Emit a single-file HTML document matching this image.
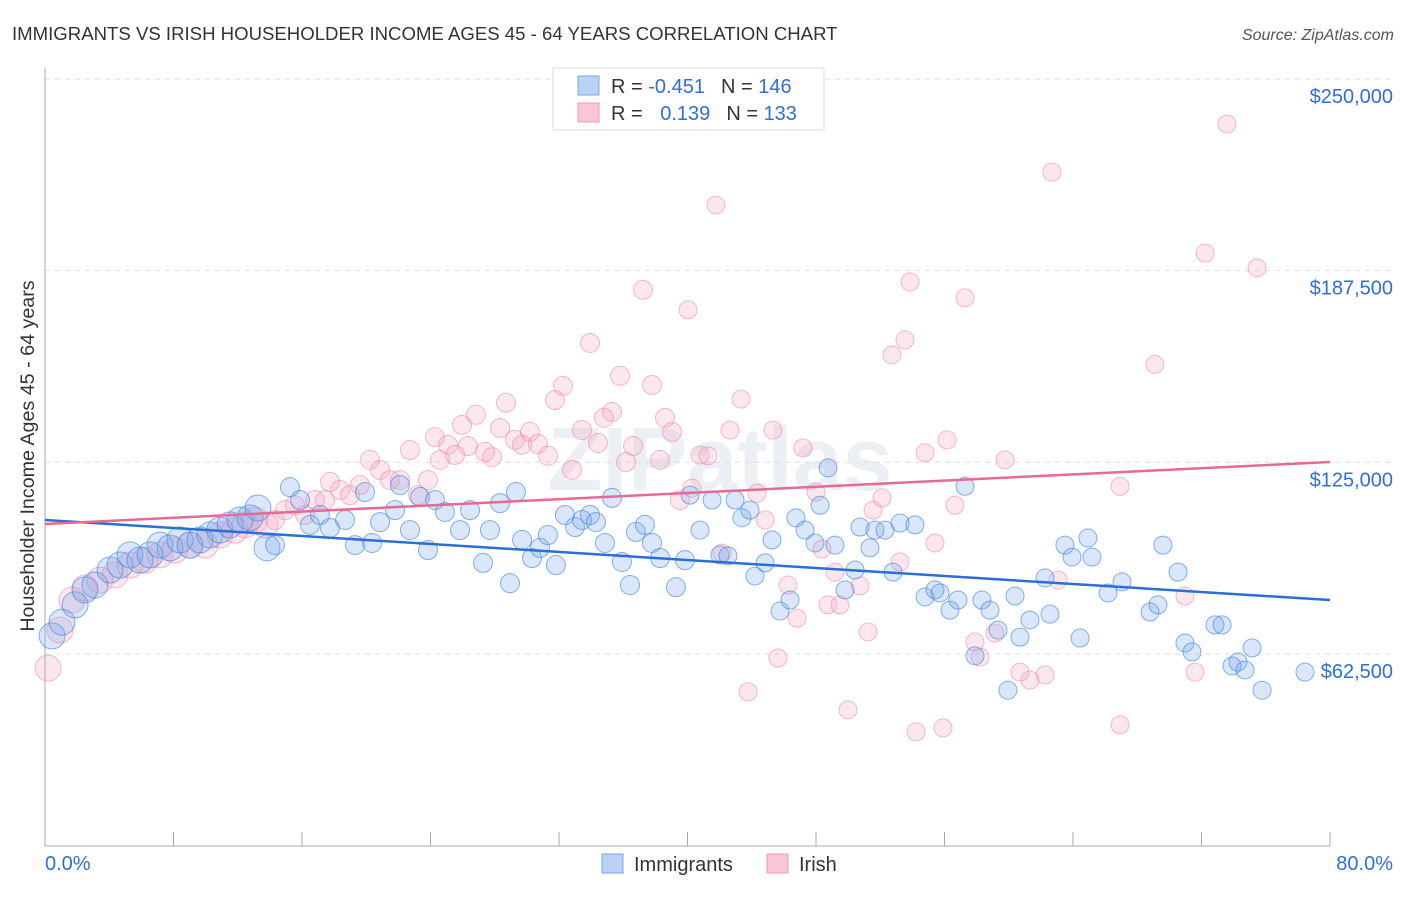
<!DOCTYPE html>
<html><head><meta charset="utf-8">
<style>
body{margin:0;background:#fff;font-family:"Liberation Sans",sans-serif;}
svg text{font-family:"Liberation Sans",sans-serif;}
</style></head>
<body>
<svg id="chart" width="1406" height="892" xmlns="http://www.w3.org/2000/svg">
<text x="12" y="40" font-size="18.6" fill="#333">IMMIGRANTS VS IRISH HOUSEHOLDER INCOME AGES 45 - 64 YEARS CORRELATION CHART</text>
<text x="1394" y="40" font-size="16" fill="#555" font-style="italic" text-anchor="end">Source: ZipAtlas.com</text>
<text x="720" y="490" font-size="90" fill="#eceff3" text-anchor="middle" font-weight="bold">ZIPatlas</text>
<g id="grid"></g>
<g id="axes"></g>
<g id="pink"></g>
<g id="blue"></g>
<g id="trends"></g>
<text x="34" y="456" font-size="19.7" fill="#333" text-anchor="middle" transform="rotate(-90 34 456)">Householder Income Ages 45 - 64 years</text>
<g>
<rect x="553" y="68" width="271" height="62" fill="#fff" stroke="#ddd"/>
<rect x="578" y="76" width="21" height="19" fill="#b9d2f5" stroke="#7aa6e8"/>
<rect x="578" y="103" width="21" height="19" fill="#f9c6d5" stroke="#ee9ab4"/>
<text x="611" y="93" font-size="20" fill="#333">R = <tspan fill="#2f6fd8">-0.451</tspan><tspan dx="16">N = </tspan><tspan fill="#2f6fd8">146</tspan></text>
<text x="611" y="120" font-size="20" fill="#333">R = <tspan fill="#2f6fd8" dx="12">0.139</tspan><tspan dx="16">N = </tspan><tspan fill="#2f6fd8">133</tspan></text>
</g>
<g>
<rect x="602" y="854" width="21" height="19" fill="#b9d2f5" stroke="#7aa6e8"/>
<text x="634" y="871" font-size="20" fill="#333">Immigrants</text>
<rect x="767" y="854" width="21" height="19" fill="#f9c6d5" stroke="#ee9ab4"/>
<text x="799" y="871" font-size="20" fill="#333">Irish</text>
</g>
</svg>
<script>
const yTicks=[62.5,125,187.5,250];
const yTickLabels=["$62,500","$125,000","$187,500","$250,000"];
const xTicks=[0,8,16,24,32,40,48,56,64,72,80];
const xEndLabels=["0.0%","80.0%"];
const blueX=[0.44,1.06,1.87,2.49,3.11,4.05,4.67,5.29,5.91,6.54,7.16,7.78,8.4,9.03,9.65,10.27,10.89,11.52,12.14,12.76,13.26,13.82,14.32,15.25,15.88,16.5,17.12,17.74,18.68,19.3,19.92,20.36,20.86,21.79,22.1,22.72,23.35,23.84,24.28,24.9,25.84,26.46,27.27,27.7,28.33,28.95,29.32,29.7,30.32,30.82,31.31,31.81,32.37,33.0,33.43,33.93,34.3,34.86,35.3,35.92,36.42,36.79,37.35,37.79,38.29,39.28,39.84,40.16,40.78,41.53,42.02,42.52,42.96,43.39,43.89,44.2,44.83,45.26,45.76,46.38,46.75,47.32,47.94,48.25,48.75,49.18,49.81,50.43,50.74,51.36,51.67,52.3,52.79,53.23,54.16,54.79,55.41,55.72,56.34,56.84,57.28,57.9,58.33,58.83,59.33,59.95,60.39,60.7,61.32,62.26,62.57,63.5,63.94,64.44,64.93,65.18,66.18,67.05,68.8,69.29,69.6,70.54,70.97,71.41,72.84,73.28,73.9,74.27,74.71,75.15,75.77,78.44];
const blueY=[68.4,72.9,78.5,83.4,85.0,89.9,91.5,94.8,93.1,94.8,98.0,97.1,99.7,98.0,99.7,101.3,102.9,104.6,106.2,106.9,110.1,97.1,98.0,116.9,112.7,104.6,107.8,103.6,106.2,98.0,115.3,98.7,105.5,109.4,117.6,102.9,113.7,96.4,112.7,108.8,102.9,109.4,92.2,102.9,111.7,85.6,115.3,99.7,93.8,97.1,101.3,91.5,107.8,103.9,106.2,107.8,105.5,98.7,113.4,92.5,85.0,102.3,104.6,98.7,93.8,84.3,93.1,114.3,102.9,112.7,94.8,94.5,112.7,106.9,109.4,87.9,92.2,99.7,76.5,80.1,106.9,102.9,98.7,111.0,123.2,98.0,83.4,89.9,103.9,97.1,102.9,102.9,89.2,105.2,104.6,81.1,83.4,82.4,76.8,80.1,117.2,61.9,80.1,76.8,70.3,50.7,81.4,68.0,73.6,87.3,75.5,98.0,94.1,67.7,100.3,94.1,82.4,86.0,76.2,78.5,98.0,89.2,66.1,63.2,72.0,72.0,58.6,59.9,57.3,64.5,50.7,56.6];
const pinkX=[0.19,0.93,1.68,2.49,3.42,4.36,5.29,6.23,7.16,8.09,9.03,9.96,10.89,11.83,12.45,13.07,13.7,14.32,14.94,15.56,16.19,16.81,17.43,17.74,18.37,18.99,19.61,20.23,20.86,21.48,22.1,22.72,23.22,23.84,24.28,24.59,25.09,25.53,25.96,26.33,26.83,27.39,27.83,28.33,28.7,29.26,29.7,30.19,30.69,31.32,31.75,32.25,32.81,33.43,33.93,34.43,34.8,35.3,35.8,36.17,36.61,37.23,37.79,38.29,38.6,39.03,39.53,40.03,40.28,40.78,41.28,41.77,42.15,42.65,43.33,43.77,44.33,44.83,45.32,45.63,46.26,46.82,47.19,48.0,48.37,48.75,49.18,49.49,49.99,50.74,51.24,51.55,52.11,52.73,53.23,53.54,53.85,54.23,54.79,55.41,55.91,56.16,56.65,57.28,57.9,58.21,59.14,59.77,60.7,61.32,62.26,62.69,63.07,66.93,66.93,69.1,70.97,71.6,72.22,73.59,75.46];
const pinkY=[57.9,70.3,80.1,84.0,86.6,88.3,91.5,93.1,94.8,96.4,98.0,98.0,101.3,102.9,104.6,106.2,104.6,106.2,109.4,111.0,107.8,112.7,112.7,118.6,116.0,114.3,117.6,125.8,122.5,119.2,119.2,129.0,114.3,119.2,133.2,125.8,130.7,127.4,137.2,130.3,140.5,128.4,126.7,136.2,144.4,132.3,130.7,134.9,131.0,127.1,145.3,149.9,122.5,135.5,163.9,131.3,139.5,141.4,153.2,125.1,130.3,181.2,150.2,125.8,139.5,134.9,112.7,174.7,116.6,127.4,127.1,208.9,95.4,135.5,145.6,50.2,114.9,106.2,135.5,61.2,85.0,74.2,129.7,115.3,96.7,78.5,89.2,78.5,44.3,84.7,69.7,109.4,113.4,160.0,92.5,164.9,183.8,37.1,128.1,98.7,38.4,132.3,111.0,178.6,66.4,61.5,69.3,125.8,56.6,54.0,55.7,219.6,86.6,39.4,117.2,156.9,81.4,56.6,193.2,235.3,188.4];
const blueTrend=[106.2,80.1];
const pinkTrend=[104.9,125.1];

const NS="http://www.w3.org/2000/svg";
const X0=45,X1=1330,Y0=845.7,PXK=191.7/62.5;
const sx=v=>X0+(v/80)*(X1-X0);
const sy=v=>Y0-v*PXK;
function mk(tag,attrs,parent){const e=document.createElementNS(NS,tag);for(const k in attrs)e.setAttribute(k,attrs[k]);parent.appendChild(e);return e;}
const grid=document.getElementById('grid'),axes=document.getElementById('axes');
yTicks.forEach((t,i)=>{
  const l=mk('line',{x1:X0,x2:1395,y1:sy(t),y2:sy(t),stroke:'#ddd','stroke-dasharray':'5,5'},grid);
  
  
  const tx=mk('text',{x:1393,y:sy(t)+24,'font-size':20,fill:'#2f6fd8','text-anchor':'end'},axes);
  tx.textContent=yTickLabels[i];
  
  
});
const tl=mk('line',{x1:X0,x2:1395,y1:79,y2:79,stroke:'#ddd','stroke-dasharray':'5,5'},grid);


const ya=mk('line',{x1:X0,x2:X0,y1:68,y2:846,stroke:'#aaa'},axes);


const xa=mk('line',{x1:X0,x2:X1,y1:846,y2:846,stroke:'#aaa'},axes);


xTicks.forEach(t=>{
  const l=mk('line',{x1:sx(t),x2:sx(t),y1:832,y2:846,stroke:'#aaa'},axes);
  
  
});
const xl0=mk('text',{x:45,y:870,'font-size':20,fill:'#2f6fd8'},axes);xl0.textContent=xEndLabels[0];


const xl1=mk('text',{x:1393,y:870,'font-size':20,fill:'#2f6fd8','text-anchor':'end'},axes);xl1.textContent=xEndLabels[1];


function dots(xs,ys,g,fill,stroke,name){
  xs.forEach((x,i)=>{
    const r=x<14?13:(x<40?9.5:9);
    const c=mk('circle',{cx:sx(x),cy:sy(ys[i]),r:r,fill:fill,stroke:stroke,'stroke-width':1},g);
    
    
  });
}
dots(pinkX,pinkY,document.getElementById('pink'),'rgba(243,160,188,0.25)','rgba(236,140,172,0.6)','irish-point');
dots(blueX,blueY,document.getElementById('blue'),'rgba(120,168,238,0.27)','rgba(70,135,225,0.65)','immigrants-point');
const tr=document.getElementById('trends');
const bl=mk('line',{x1:sx(0),x2:sx(80),y1:sy(blueTrend[0]),y2:sy(blueTrend[1]),stroke:'#2a6fd6','stroke-width':2.5},tr);


const pl=mk('line',{x1:sx(0),x2:sx(80),y1:sy(pinkTrend[0]),y2:sy(pinkTrend[1]),stroke:'#e66a94','stroke-width':2.5},tr);


</script>
</body></html>
